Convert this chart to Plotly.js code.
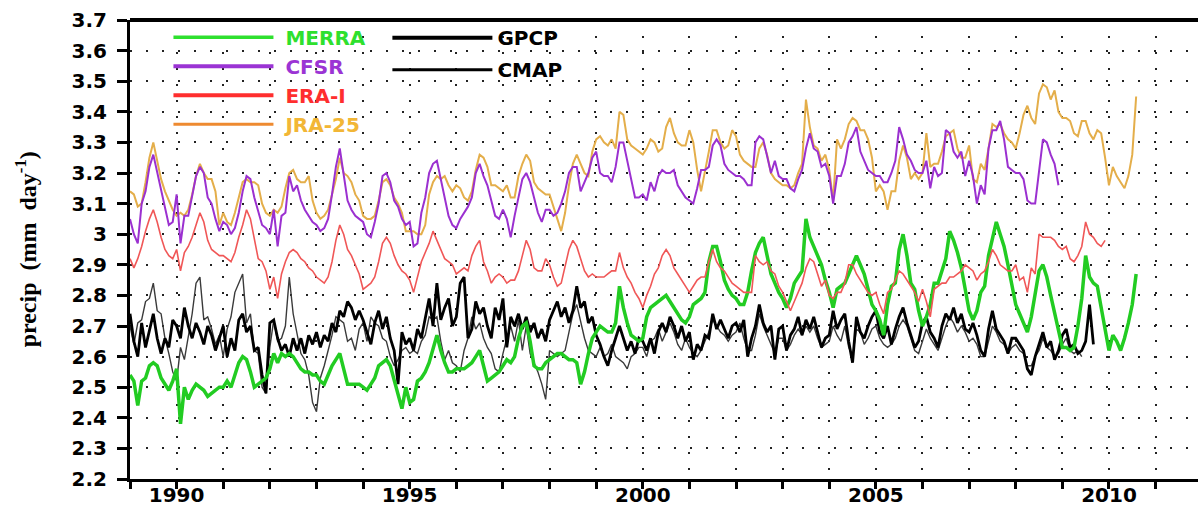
<!DOCTYPE html>
<html>
<head>
<meta charset="utf-8">
<script src="https://cdn.plot.ly/plotly-3.0.1.min.js"></script>
<style>html,body{margin:0;padding:0;background:#fff;}#chart{width:1198px;height:508px;}</style>
</head>
<body>
<div id="chart"></div>
<script>
// Monthly series, starting January 1989 (mm/day)
const startYear = 1989;

const merra = [
 2.54,2.52,2.44,2.52,2.53,2.57,2.58,2.57,2.53,2.51,2.49,2.52, // 1989
 2.56,2.38,2.50,2.46,2.49,2.51,2.50,2.49,2.47,2.48,2.49,2.50, // 1990
 2.50,2.52,2.50,2.54,2.58,2.60,2.59,2.55,2.50,2.51,2.52,2.53, // 1991
 2.56,2.61,2.58,2.61,2.60,2.61,2.60,2.58,2.56,2.55,2.55,2.54, // 1992
 2.54,2.52,2.51,2.54,2.57,2.59,2.61,2.56,2.51,2.51,2.51,2.51, // 1993
 2.50,2.49,2.51,2.53,2.57,2.58,2.59,2.57,2.52,2.47,2.43,2.50, // 1994
 2.45,2.46,2.52,2.53,2.55,2.58,2.63,2.67,2.62,2.58,2.55,2.55, // 1995
 2.56,2.56,2.56,2.57,2.58,2.60,2.62,2.57,2.52,2.53,2.54,2.55, // 1996
 2.57,2.59,2.58,2.60,2.66,2.70,2.71,2.65,2.57,2.56,2.56,2.58, // 1997
 2.59,2.60,2.61,2.61,2.60,2.59,2.59,2.58,2.51,2.55,2.61,2.66, // 1998
 2.68,2.70,2.69,2.68,2.68,2.71,2.83,2.76,2.71,2.67,2.66,2.65, // 1999
 2.66,2.73,2.76,2.77,2.78,2.79,2.80,2.78,2.76,2.74,2.72,2.71, // 2000
 2.73,2.77,2.78,2.79,2.81,2.91,2.96,2.96,2.91,2.85,2.82,2.80, // 2001
 2.79,2.77,2.77,2.81,2.88,2.94,2.97,2.99,2.93,2.87,2.84,2.81, // 2002
 2.79,2.76,2.79,2.84,2.86,2.88,3.05,2.99,2.96,2.93,2.90,2.85, // 2003
 2.81,2.76,2.82,2.83,2.84,2.87,2.90,2.93,2.90,2.87,2.82,2.77, // 2004
 2.75,2.72,2.67,2.77,2.83,2.84,2.95,3.00,2.93,2.84,2.82,2.75, // 2005
 2.70,2.73,2.77,2.84,2.84,2.88,2.92,3.01,2.98,2.94,2.89,2.82, // 2006
 2.75,2.72,2.75,2.81,2.83,2.93,2.99,3.04,3.00,2.96,2.90,2.83, // 2007
 2.77,2.74,2.71,2.68,2.73,2.80,2.88,2.90,2.86,2.80,2.74,2.68, // 2008
 2.63,2.63,2.62,2.63,2.70,2.79,2.93,2.86,2.84,2.83,2.76,2.69, // 2009
 2.62,2.67,2.65,2.62,2.66,2.71,2.77,2.87                      // 2010
];

const cfsr = [
 3.05,3.00,2.97,3.10,3.14,3.22,3.26,3.20,3.14,3.08,3.03,3.04, // 1989
 3.13,2.97,3.06,3.06,3.12,3.19,3.22,3.20,3.12,3.10,3.05,3.01, // 1990
 3.04,3.03,3.00,3.02,3.07,3.14,3.19,3.18,3.12,3.07,3.03,3.02, // 1991
 3.00,3.08,2.96,3.06,3.07,3.19,3.14,3.16,3.11,3.08,3.06,3.04, // 1992
 3.03,3.01,3.02,3.05,3.13,3.22,3.28,3.19,3.11,3.08,3.06,3.05, // 1993
 3.04,3.00,2.99,3.04,3.10,3.19,3.20,3.17,3.11,3.09,3.05,3.03, // 1994
 3.04,2.96,2.97,3.07,3.12,3.20,3.23,3.24,3.18,3.12,3.06,3.03, // 1995
 3.02,3.05,3.07,3.09,3.12,3.20,3.23,3.19,3.16,3.11,3.06,3.05, // 1996
 3.08,3.05,2.99,3.06,3.12,3.18,3.20,3.17,3.12,3.07,3.04,3.08, // 1997
 3.08,3.06,3.07,3.10,3.14,3.20,3.22,3.22,3.14,3.17,3.20,3.25, // 1998
 3.27,3.20,3.19,3.19,3.17,3.22,3.30,3.30,3.24,3.18,3.12,3.12, // 1999
 3.13,3.11,3.17,3.14,3.19,3.21,3.20,3.20,3.21,3.16,3.14,3.12, // 2000
 3.11,3.10,3.15,3.21,3.21,3.22,3.29,3.31,3.29,3.23,3.21,3.20, // 2001
 3.19,3.19,3.18,3.16,3.16,3.30,3.32,3.31,3.26,3.20,3.24,3.19, // 2002
 3.18,3.18,3.15,3.14,3.18,3.21,3.28,3.33,3.28,3.27,3.22,3.23, // 2003
 3.19,3.10,3.19,3.19,3.23,3.30,3.32,3.35,3.27,3.24,3.21,3.20, // 2004
 3.19,3.19,3.17,3.17,3.20,3.24,3.35,3.31,3.26,3.24,3.21,3.20, // 2005
 3.20,3.24,3.15,3.22,3.19,3.20,3.34,3.33,3.27,3.25,3.27,3.19, // 2006
 3.24,3.19,3.10,3.16,3.13,3.28,3.34,3.34,3.37,3.31,3.22,3.21, // 2007
 3.20,3.20,3.18,3.11,3.10,3.10,3.20,3.31,3.30,3.26,3.23,3.16  // 2008
];

const erai = [
 2.92,2.89,2.92,2.96,3.01,3.05,3.08,3.04,2.99,2.95,2.93,2.92, // 1989
 2.95,2.88,2.94,2.96,2.99,3.03,3.07,3.04,2.98,2.95,2.94,2.93, // 1990
 2.93,2.92,2.91,2.94,2.99,3.03,3.08,3.05,2.99,2.92,2.91,2.88, // 1991
 2.82,2.86,2.79,2.87,2.91,2.94,2.95,2.94,2.92,2.91,2.89,2.88, // 1992
 2.86,2.85,2.84,2.86,2.91,2.98,3.03,3.00,2.95,2.93,2.90,2.87, // 1993
 2.82,2.83,2.84,2.86,2.91,2.97,2.99,2.97,2.93,2.90,2.88,2.87, // 1994
 2.85,2.81,2.86,2.91,2.94,2.97,3.01,2.98,2.95,2.92,2.91,2.90, // 1995
 2.87,2.88,2.89,2.88,2.93,2.96,2.98,2.91,2.88,2.84,2.86,2.87, // 1996
 2.86,2.84,2.85,2.85,2.88,2.93,2.98,2.95,2.89,2.88,2.88,2.92, // 1997
 2.90,2.86,2.83,2.84,2.89,2.95,2.98,2.96,2.92,2.88,2.86,2.87, // 1998
 2.86,2.86,2.86,2.87,2.88,2.88,2.94,2.89,2.86,2.84,2.81,2.79, // 1999
 2.76,2.80,2.83,2.87,2.89,2.93,2.95,2.93,2.89,2.87,2.85,2.83, // 2000
 2.81,2.83,2.85,2.86,2.86,2.91,2.95,2.91,2.89,2.88,2.86,2.84, // 2001
 2.83,2.82,2.81,2.81,2.81,2.93,2.91,2.90,2.91,2.88,2.87,2.83, // 2002
 2.81,2.78,2.75,2.78,2.81,2.84,2.89,2.92,2.91,2.87,2.83,2.85, // 2003
 2.80,2.79,2.81,2.81,2.84,2.90,2.90,2.87,2.85,2.83,2.81,2.80, // 2004
 2.81,2.77,2.74,2.81,2.82,2.85,2.88,2.87,2.85,2.83,2.81,2.78, // 2005
 2.82,2.78,2.73,2.82,2.83,2.84,2.84,2.86,2.86,2.87,2.88,2.90, // 2006
 2.89,2.88,2.85,2.87,2.88,2.91,2.95,2.93,2.90,2.89,2.88,2.88, // 2007
 2.90,2.85,2.86,2.81,2.89,2.87,3.00,2.99,2.99,2.99,2.98,2.96, // 2008
 2.95,2.96,2.92,2.91,2.93,2.96,3.04,3.00,2.99,2.97,2.96,2.98  // 2009
];

const jra25 = [
 3.14,3.13,3.09,3.10,3.17,3.25,3.30,3.24,3.18,3.14,3.11,3.08, // 1989
 3.06,3.07,3.06,3.08,3.13,3.19,3.23,3.20,3.18,3.18,3.14,3.03, // 1990
 3.07,3.04,3.03,3.07,3.12,3.17,3.18,3.17,3.17,3.16,3.10,3.07, // 1991
 3.06,3.08,3.07,3.09,3.15,3.20,3.21,3.18,3.17,3.17,3.19,3.11, // 1992
 3.07,3.05,3.06,3.08,3.13,3.18,3.25,3.20,3.19,3.17,3.13,3.11, // 1993
 3.06,3.05,3.05,3.06,3.11,3.17,3.18,3.16,3.12,3.10,3.07,3.01, // 1994
 3.01,3.01,3.00,3.00,3.03,3.13,3.17,3.19,3.18,3.19,3.16,3.14, // 1995
 3.16,3.15,3.12,3.11,3.14,3.21,3.26,3.25,3.22,3.16,3.16,3.15, // 1996
 3.14,3.16,3.12,3.12,3.19,3.23,3.26,3.24,3.17,3.15,3.14,3.13, // 1997
 3.13,3.09,3.05,3.01,3.07,3.16,3.23,3.26,3.23,3.20,3.19,3.27, // 1998
 3.31,3.32,3.30,3.29,3.31,3.28,3.40,3.39,3.31,3.29,3.28,3.27, // 1999
 3.26,3.28,3.31,3.30,3.27,3.28,3.35,3.38,3.33,3.30,3.29,3.29, // 2000
 3.34,3.30,3.21,3.14,3.20,3.27,3.34,3.34,3.30,3.28,3.29,3.34, // 2001
 3.32,3.26,3.24,3.23,3.22,3.22,3.28,3.30,3.26,3.20,3.18,3.17, // 2002
 3.16,3.16,3.15,3.16,3.20,3.23,3.44,3.35,3.29,3.28,3.24,3.26, // 2003
 3.21,3.11,3.31,3.28,3.31,3.36,3.38,3.37,3.34,3.34,3.31,3.25, // 2004
 3.14,3.16,3.14,3.08,3.14,3.14,3.24,3.29,3.25,3.18,3.20,3.18, // 2005
 3.20,3.33,3.22,3.23,3.23,3.27,3.32,3.33,3.34,3.28,3.25,3.25, // 2006
 3.29,3.18,3.17,3.23,3.21,3.28,3.36,3.35,3.36,3.33,3.31,3.30, // 2007
 3.28,3.33,3.39,3.42,3.38,3.36,3.46,3.49,3.48,3.44,3.47,3.40, // 2008
 3.38,3.38,3.37,3.33,3.32,3.37,3.37,3.33,3.31,3.34,3.33,3.25, // 2009
 3.16,3.22,3.19,3.17,3.15,3.19,3.26,3.45                      // 2010
];

const gpcp = [
 2.74,2.65,2.60,2.71,2.63,2.68,2.74,2.66,2.61,2.66,2.63,2.72, // 1989
 2.70,2.66,2.76,2.70,2.66,2.71,2.68,2.64,2.70,2.67,2.62,2.66, // 1990
 2.70,2.60,2.66,2.62,2.72,2.74,2.68,2.70,2.62,2.63,2.54,2.48, // 1991
 2.71,2.72,2.66,2.62,2.64,2.60,2.66,2.62,2.66,2.61,2.67,2.64, // 1992
 2.68,2.63,2.67,2.65,2.71,2.68,2.75,2.73,2.78,2.76,2.72,2.75, // 1993
 2.72,2.68,2.64,2.71,2.75,2.69,2.73,2.66,2.62,2.51,2.68,2.64, // 1994
 2.66,2.62,2.69,2.66,2.73,2.79,2.70,2.84,2.72,2.76,2.79,2.70, // 1995
 2.73,2.84,2.86,2.66,2.69,2.78,2.74,2.76,2.70,2.66,2.76,2.72, // 1996
 2.79,2.63,2.73,2.70,2.74,2.69,2.73,2.68,2.71,2.66,2.69,2.65, // 1997
 2.72,2.75,2.78,2.73,2.76,2.71,2.75,2.83,2.76,2.78,2.71,2.73, // 1998
 2.67,2.64,2.60,2.57,2.62,2.66,2.70,2.66,2.62,2.65,2.61,2.66, // 1999
 2.65,2.62,2.66,2.61,2.68,2.71,2.68,2.73,2.70,2.66,2.70,2.65, // 2000
 2.68,2.59,2.64,2.62,2.67,2.66,2.74,2.69,2.72,2.69,2.66,2.70, // 2001
 2.71,2.68,2.72,2.60,2.66,2.70,2.77,2.71,2.68,2.70,2.59,2.69, // 2002
 2.70,2.62,2.67,2.69,2.73,2.67,2.72,2.69,2.73,2.68,2.63,2.66, // 2003
 2.67,2.75,2.69,2.72,2.74,2.65,2.58,2.73,2.68,2.66,2.70,2.73, // 2004
 2.75,2.68,2.66,2.70,2.64,2.69,2.73,2.76,2.71,2.67,2.63,2.65, // 2005
 2.71,2.73,2.68,2.66,2.63,2.70,2.74,2.72,2.76,2.71,2.74,2.69, // 2006
 2.68,2.71,2.67,2.62,2.60,2.69,2.75,2.69,2.67,2.65,2.61,2.66, // 2007
 2.66,2.64,2.62,2.56,2.54,2.60,2.64,2.68,2.63,2.65,2.59,2.62, // 2008
 2.67,2.69,2.63,2.64,2.61,2.62,2.65,2.77,2.64                 // 2009
];

const cmap = [
 2.70,2.64,2.71,2.72,2.78,2.79,2.84,2.75,2.74,2.66,2.61,2.55, // 1989
 2.52,2.63,2.59,2.67,2.74,2.84,2.86,2.72,2.73,2.69,2.64,2.67, // 1990
 2.60,2.69,2.73,2.81,2.84,2.87,2.71,2.74,2.62,2.61,2.50,2.48, // 1991
 2.63,2.72,2.65,2.66,2.70,2.86,2.74,2.67,2.61,2.59,2.54,2.45, // 1992
 2.42,2.53,2.57,2.62,2.67,2.73,2.72,2.71,2.65,2.66,2.62,2.69, // 1993
 2.71,2.65,2.73,2.71,2.70,2.66,2.65,2.60,2.57,2.59,2.62,2.63, // 1994
 2.61,2.62,2.61,2.65,2.67,2.73,2.72,2.73,2.65,2.59,2.62,2.58, // 1995
 2.57,2.55,2.62,2.66,2.73,2.69,2.71,2.66,2.63,2.61,2.56,2.55, // 1996
 2.61,2.66,2.70,2.65,2.72,2.62,2.70,2.61,2.58,2.55,2.51,2.46, // 1997
 2.62,2.61,2.60,2.61,2.62,2.68,2.74,2.77,2.72,2.66,2.62,2.61, // 1998
 2.60,2.63,2.60,2.61,2.64,2.60,2.59,2.58,2.56,2.60,2.61,2.63, // 1999
 2.63,2.60,2.65,2.66,2.69,2.65,2.68,2.71,2.68,2.64,2.62,2.66, // 2000
 2.63,2.61,2.60,2.62,2.65,2.68,2.72,2.70,2.68,2.67,2.65,2.67, // 2001
 2.68,2.71,2.66,2.62,2.62,2.67,2.74,2.70,2.67,2.64,2.61,2.66, // 2002
 2.66,2.62,2.64,2.67,2.69,2.67,2.70,2.68,2.70,2.66,2.63,2.64, // 2003
 2.65,2.70,2.67,2.65,2.70,2.63,2.60,2.69,2.68,2.64,2.66,2.69, // 2004
 2.70,2.66,2.64,2.63,2.64,2.66,2.70,2.72,2.70,2.66,2.62,2.61, // 2005
 2.65,2.69,2.66,2.64,2.62,2.66,2.70,2.73,2.71,2.68,2.70,2.68, // 2006
 2.65,2.66,2.64,2.60,2.60,2.65,2.70,2.68,2.65,2.64,2.61,2.63, // 2007
 2.64,2.62,2.61,2.57,2.57,2.60,2.62,2.66,2.63,2.62,2.60,2.61, // 2008
 2.64,2.66,2.62,2.61,2.62,2.60                                // 2009
];

const yTicks = [2.2,2.3,2.4,2.5,2.6,2.7,2.8,2.9,3.0,3.1,3.2,3.3,3.4,3.5,3.6,3.7];

function monthAxis(vals) { return vals.map((_, i) => startYear + i / 12); }

const gridDash = '2px,14px';
const tickFont = {family: 'DejaVu Sans', size: 20, weight: 'bold', color: '#000'};

// plotted series (legend handled by key entries below)
function trace(vals, color, width) {
  return {
    x: monthAxis(vals), y: vals, type: 'scatter', mode: 'lines',
    line: {color: color, width: width}, showlegend: false, hoverinfo: 'skip'
  };
}
// legend key entries (no data points, style only)
function key(name, color, width, legend, rank, group) {
  return {
    x: [null], y: [null], type: 'scatter', mode: 'lines', name: name,
    line: {color: color, width: width}, legend: legend, legendrank: rank,
    legendgroup: group, hoverinfo: 'skip'
  };
}

const data = [
  trace(jra25, '#e4ae4a', 2),
  trace(cfsr,  '#9b30d0', 2),
  trace(cmap,  '#3a3a3a', 1.4),
  trace(gpcp,  '#000000', 2.8),
  trace(merra, '#22cc22', 3.5),
  trace(erai,  '#f05757', 1.6),
  key('&nbsp;<span style="color:#2ee02e">MERRA</span>', '#2ee02e', 3.5, 'legend', 1, 'a'),
  key('&nbsp;<span style="color:#9b34d4">CFSR</span>',  '#9b34d4', 4,   'legend', 2, 'b'),
  key('&nbsp;<span style="color:#ff2e2e">ERA-I</span>', '#ff2e2e', 4,   'legend', 3, 'c'),
  key('&nbsp;<span style="color:#f2b636">JRA-25</span>','#ee8a30', 3,   'legend', 4, 'd'),
  key('GPCP', '#000000', 4,   'legend2', 1, 'e'),
  key('CMAP', '#000000', 3,   'legend2', 2, 'f')
];

const legendFont = {family: 'DejaVu Sans', size: 20, weight: 'bold', color: '#000'};

const layout = {
  width: 1198, height: 508,
  margin: {l: 130, r: 0, t: 20, b: 29},
  paper_bgcolor: '#fff', plot_bgcolor: '#fff',
  showlegend: true,
  xaxis: {
    range: [1989, 2011.91], tick0: 1990, dtick: 5,
    ticks: 'outside', ticklen: 7, tickwidth: 3, tickcolor: '#000',
    showline: true, linewidth: 3, linecolor: '#000',
    showgrid: true, gridcolor: '#222', gridwidth: 2, griddash: gridDash,
    zeroline: false, tickfont: tickFont, ticklabelstandoff: -11,
    minor: {dtick: 1, tick0: 1990, ticks: 'outside', ticklen: 7, tickwidth: 3, tickcolor: '#000',
            showgrid: true, gridcolor: '#222', gridwidth: 2, griddash: gridDash}
  },
  yaxis: {
    range: [2.2, 3.7], tickvals: yTicks,
    ticks: 'outside', ticklen: 10, tickwidth: 3, tickcolor: '#000',
    showline: true, linewidth: 3, linecolor: '#000',
    showgrid: true, gridcolor: '#222', gridwidth: 2, griddash: gridDash,
    zeroline: false, tickfont: tickFont, ticklabelstandoff: 6
  },
  legend: {
    x: 0.036, y: 1.005, xanchor: 'left', yanchor: 'top',
    bgcolor: 'rgba(0,0,0,0)', borderwidth: 0, font: legendFont,
    itemwidth: 100, traceorder: 'grouped', tracegroupgap: 0
  },
  legend2: {
    x: 0.241, y: 1.004, xanchor: 'left', yanchor: 'top',
    bgcolor: 'rgba(0,0,0,0)', borderwidth: 0, font: legendFont,
    itemwidth: 100, traceorder: 'grouped', tracegroupgap: 3
  },
  shapes: [
    {type: 'line', xref: 'paper', yref: 'paper', x0: 0, x1: 1, y0: 1, y1: 1,
     line: {color: '#000', width: 4}}
  ],
  annotations: [
    {xref: 'paper', yref: 'paper', x: -0.0975, y: 0.5, xanchor: 'center', yanchor: 'middle',
     textangle: -90, showarrow: false,
     text: 'precip&nbsp; (mm&nbsp; day<sup>-1</sup>)',
     font: {family: 'Liberation Serif', size: 24, weight: 'bold', color: '#000'}}
  ]
};

Plotly.newPlot('chart', data, layout, {displayModeBar: false, staticPlot: true});
</script>
</body>
</html>
